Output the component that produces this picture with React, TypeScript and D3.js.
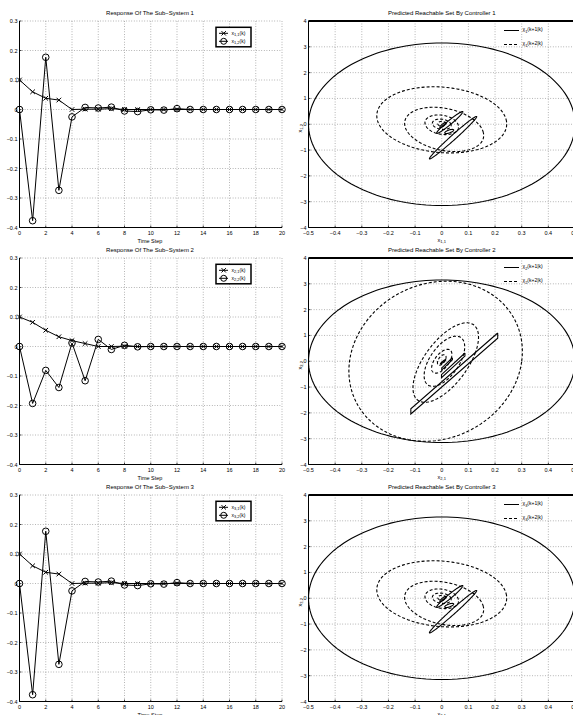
import React, { useEffect, useRef } from "react";
import * as d3 from "d3";

const timeSteps = [0, 1, 2, 3, 4, 5, 6, 7, 8, 9, 10, 11, 12, 13, 14, 15, 16, 17, 18, 19, 20];

const sub1X1 = [0.1, 0.06, 0.038, 0.032, 0, 0.001, 0.001, 0.003, 0, 0, 0, 0, 0, 0, 0, 0, 0, 0, 0, 0, 0];
const sub1X2 = [0, -0.377, 0.177, -0.274, -0.025, 0.007, 0.005, 0.008, -0.005, -0.007, -0.001, -0.002, 0.003, 0, 0, 0, 0, 0, 0, 0, 0];
const sub2X1 = [0.1, 0.082, 0.055, 0.033, 0.02, 0.01, 0, 0, 0.001, 0, 0, 0, 0, 0, 0, 0, 0, 0, 0, 0, 0];
const sub2X2 = [0, -0.193, -0.081, -0.139, 0.012, -0.116, 0.024, -0.01, 0.004, -0.001, 0, 0, 0, 0, 0, 0, 0, 0, 0, 0, 0];
const sub3X1 = [0.1, 0.06, 0.038, 0.032, 0, 0.001, 0.001, 0.003, 0, 0, 0, 0, 0, 0, 0, 0, 0, 0, 0, 0, 0];
const sub3X2 = [0, -0.377, 0.177, -0.274, -0.025, 0.007, 0.005, 0.008, -0.005, -0.007, -0.001, -0.002, 0.003, 0, 0, 0, 0, 0, 0, 0, 0];

const leftXTicks = [0, 2, 4, 6, 8, 10, 12, 14, 16, 18, 20];
const leftYTicks = [-0.4, -0.3, -0.2, -0.1, 0, 0.1, 0.2, 0.3];
const rightXTicks = [-0.5, -0.4, -0.3, -0.2, -0.1, 0, 0.1, 0.2, 0.3, 0.4, 0.5];
const rightYTicks = [-4, -3, -2, -1, 0, 1, 2, 3, 4];

// reachable sets: centre c, conjugate half-vectors u, v (data units)
type Shape = { kind: "ellipse" | "band"; c: number[]; u: number[]; v: number[] };

const reachA1: Shape[] = [
  { kind: "ellipse", c: [0, 0], u: [0.5, 0], v: [0, 3.15] },
  { kind: "ellipse", c: [0.0425, -0.52], u: [0.0885, 0.82], v: [-0.006, 0.07] },
  { kind: "ellipse", c: [0.03, 0.07], u: [0.049, 0.42], v: [-0.005, 0.06] },
  { kind: "ellipse", c: [0.028, -0.28], u: [0.016, 0.07], v: [-0.005, 0.04] },
  { kind: "ellipse", c: [0.005, -0.03], u: [0.012, 0.1], v: [-0.003, 0.03] },
];
const reachA2: Shape[] = [
  { kind: "ellipse", c: [0, 0.17], u: [0.243, -0.06], v: [-0.019, 1.28] },
  { kind: "ellipse", c: [0.009, -0.2], u: [0.147, -0.12], v: [-0.02, 0.85] },
  { kind: "ellipse", c: [0, -0.02], u: [0.0625, -0.03], v: [-0.008, 0.38] },
  { kind: "ellipse", c: [0, 0], u: [0.035, -0.015], v: [-0.004, 0.2] },
  { kind: "ellipse", c: [0, 0.02], u: [0.015, 0], v: [0, 0.09] },
];
const reachB1: Shape[] = [
  { kind: "ellipse", c: [0, 0], u: [0.5, 0], v: [0, 3.15] },
  { kind: "band", c: [0.047, -0.475], u: [0.163, 1.47], v: [0, 0.1] },
  { kind: "band", c: [0.043, -0.16], u: [0.044, 0.42], v: [0, 0.06] },
  { kind: "band", c: [0.02, -0.1], u: [0.02, 0.2], v: [0, 0.04] },
  { kind: "ellipse", c: [0.005, -0.02], u: [0.01, 0.08], v: [0, 0.03] },
];
const reachB2: Shape[] = [
  { kind: "ellipse", c: [-0.023, 0], u: [0.323, 0], v: [0.04, 3.1] },
  { kind: "ellipse", c: [0.015, -0.05], u: [0.11, 0.35], v: [0.055, 1.5] },
  { kind: "ellipse", c: [0.01, 0], u: [0.07, 0.2], v: [0.03, 0.95] },
  { kind: "ellipse", c: [0, 0], u: [0.035, 0.1], v: [0.015, 0.45] },
  { kind: "ellipse", c: [0, 0.05], u: [0.015, 0.04], v: [0.006, 0.2] },
];

const panels = [
  { n: "1", x1: sub1X1, x2: sub1X2, solid: reachA1, dashed: reachA2 },
  { n: "2", x1: sub2X1, x2: sub2X2, solid: reachB1, dashed: reachB2 },
  { n: "3", x1: sub3X1, x2: sub3X2, solid: reachA1, dashed: reachA2 },
];

const FONT = "'Liberation Sans', Arial, Helvetica, sans-serif";

const App = () => {
  const svgRef = useRef<SVGSVGElement>(null);

  useEffect(() => {
    document.body.style.margin = "0";
    const width = 573;
    const height = 715;
    const svg = d3
      .select(svgRef.current)
      .attr("width", width)
      .attr("height", height)
      .style("font-family", FONT)
      .style("background", "#fff");
    svg.selectAll("*").remove();

    const plotH = 206.5;
    const tops = [21, 258, 495];
    const gridStyle = (s: any) =>
      s.attr("stroke", "#666").attr("stroke-width", 0.6).attr("stroke-dasharray", "0.8,1.8");

    const subText = (t: any, base: string, sub: string, tail: string) => {
      t.append("tspan").text(base);
      t.append("tspan").attr("dy", 1.5).style("font-size", "4px").text(sub);
      t.append("tspan").attr("dy", -1.5).text(tail);
    };

    panels.forEach((p, i) => {
      const top = tops[i];
      const bottom = top + plotH;

      // ---------- left: time response ----------
      const x = d3.scaleLinear().domain([0, 20]).range([19.5, 282]);
      const y = d3.scaleLinear().domain([-0.4, 0.3]).range([bottom, top]);
      const gl = svg.append("g");

      leftXTicks.forEach((t) => {
        gl.append("line").attr("x1", x(t)).attr("x2", x(t)).attr("y1", top).attr("y2", bottom).call(gridStyle);
      });
      leftYTicks.forEach((t) => {
        gl.append("line").attr("x1", x(0)).attr("x2", x(20)).attr("y1", y(t)).attr("y2", y(t)).call(gridStyle);
      });
      gl.append("line").attr("x1", x(0)).attr("x2", x(0)).attr("y1", top).attr("y2", bottom).attr("stroke", "#000").attr("stroke-width", 1);
      gl.append("line").attr("x1", x(0)).attr("x2", x(20)).attr("y1", bottom).attr("y2", bottom).attr("stroke", "#000").attr("stroke-width", 1);

      leftXTicks.forEach((t) => {
        gl.append("line").attr("x1", x(t)).attr("x2", x(t)).attr("y1", bottom).attr("y2", bottom - 2).attr("stroke", "#000").attr("stroke-width", 0.7);
        gl.append("text").attr("x", x(t)).attr("y", bottom + 7).attr("text-anchor", "middle").style("font-size", "5.5px").text(String(t));
      });
      leftYTicks.forEach((t) => {
        gl.append("line").attr("x1", x(0)).attr("x2", x(0) + 2).attr("y1", y(t)).attr("y2", y(t)).attr("stroke", "#000").attr("stroke-width", 0.7);
        gl.append("text").attr("x", x(0) - 2).attr("y", y(t) + 2).attr("text-anchor", "end").style("font-size", "5.5px")
          .text(t === 0 ? "0" : d3.format(".1f")(t).replace("-", "\u2212"));
      });

      const line = d3.line<number>().x((_, k) => x(timeSteps[k])).y((d) => y(d));
      gl.append("path").attr("d", line(p.x1)).attr("fill", "none").attr("stroke", "#000").attr("stroke-width", 1);
      gl.append("path").attr("d", line(p.x2)).attr("fill", "none").attr("stroke", "#000").attr("stroke-width", 1);
      p.x1.forEach((d, k) => {
        const cx = x(timeSteps[k]);
        const cy = y(d);
        gl.append("path").attr("d", `M${cx - 2.3},${cy - 2.3}L${cx + 2.3},${cy + 2.3}M${cx - 2.3},${cy + 2.3}L${cx + 2.3},${cy - 2.3}`)
          .attr("stroke", "#000").attr("stroke-width", 1);
      });
      p.x2.forEach((d, k) => {
        gl.append("circle").attr("cx", x(timeSteps[k])).attr("cy", y(d)).attr("r", 3.3)
          .attr("fill", "none").attr("stroke", "#000").attr("stroke-width", 1);
      });

      gl.append("text").attr("x", 150).attr("y", top - 6).attr("text-anchor", "middle").style("font-size", "6px")
        .text(`Response Of The Sub\u2212System ${p.n}`);
      gl.append("text").attr("x", 150).attr("y", bottom + 15).attr("text-anchor", "middle").style("font-size", "5.5px").text("Time Step");

      // legend
      const lg = gl.append("g").attr("transform", `translate(216, ${top + 6.3})`);
      lg.append("rect").attr("width", 35).attr("height", 19.5).attr("fill", "#fff").attr("stroke", "#000").attr("stroke-width", 1.5);
      lg.append("line").attr("x1", 3).attr("x2", 12).attr("y1", 6).attr("y2", 6).attr("stroke", "#000").attr("stroke-width", 1);
      lg.append("path").attr("d", "M5.5,3.8L9.9,8.2M5.5,8.2L9.9,3.8").attr("stroke", "#000").attr("stroke-width", 1);
      lg.append("line").attr("x1", 3).attr("x2", 12).attr("y1", 14).attr("y2", 14).attr("stroke", "#000").attr("stroke-width", 1);
      lg.append("circle").attr("cx", 7.7).attr("cy", 14).attr("r", 3).attr("fill", "none").attr("stroke", "#000").attr("stroke-width", 1);
      lg.append("text").attr("x", 15.5).attr("y", 7.3).style("font-size", "5px").call(subText, "x", `${p.n},1`, "(k)");
      lg.append("text").attr("x", 15.5).attr("y", 15.3).style("font-size", "5px").call(subText, "x", `${p.n},2`, "(k)");

      // ---------- right: reachable sets ----------
      const rx = d3.scaleLinear().domain([-0.5, 0.5]).range([308.5, 575]);
      const ry = d3.scaleLinear().domain([-4, 4]).range([bottom, top]);
      const gr = svg.append("g");

      rightXTicks.forEach((t) => {
        gr.append("line").attr("x1", rx(t)).attr("x2", rx(t)).attr("y1", top).attr("y2", bottom).call(gridStyle);
      });
      rightYTicks.forEach((t) => {
        gr.append("line").attr("x1", rx(-0.5)).attr("x2", rx(0.5)).attr("y1", ry(t)).attr("y2", ry(t)).call(gridStyle);
      });
      gr.append("line").attr("x1", rx(-0.5)).attr("x2", rx(-0.5)).attr("y1", top).attr("y2", bottom).attr("stroke", "#000").attr("stroke-width", 1);
      gr.append("line").attr("x1", rx(-0.5)).attr("x2", rx(0.5)).attr("y1", bottom).attr("y2", bottom).attr("stroke", "#000").attr("stroke-width", 1);
      gr.append("line").attr("x1", rx(-0.5)).attr("x2", rx(0.5)).attr("y1", top).attr("y2", top).attr("stroke", "#000").attr("stroke-width", 1.8);

      rightXTicks.forEach((t) => {
        gr.append("line").attr("x1", rx(t)).attr("x2", rx(t)).attr("y1", bottom).attr("y2", bottom - 2).attr("stroke", "#000").attr("stroke-width", 0.7);
        gr.append("text").attr("x", rx(t)).attr("y", bottom + 7).attr("text-anchor", "middle").style("font-size", "5.5px")
          .text(t === 0 ? "0" : d3.format(".1f")(t).replace("-", "\u2212"));
      });
      rightYTicks.forEach((t) => {
        gr.append("line").attr("x1", rx(-0.5)).attr("x2", rx(-0.5) + 2).attr("y1", ry(t)).attr("y2", ry(t)).attr("stroke", "#000").attr("stroke-width", 0.7);
        gr.append("text").attr("x", rx(-0.5) - 2).attr("y", ry(t) + 2).attr("text-anchor", "end").style("font-size", "5.5px")
          .text(String(t).replace("-", "\u2212"));
      });

      const angles = d3.range(0, 161).map((k) => (k / 160) * 2 * Math.PI);
      const shapePath = (s: Shape) => {
        const [cx, cy] = s.c;
        const [ux, uy] = s.u;
        const [vx, vy] = s.v;
        let pts: [number, number][];
        if (s.kind === "band") {
          pts = [
            [cx + ux + vx, cy + uy + vy],
            [cx + ux - vx, cy + uy - vy],
            [cx - ux - vx, cy - uy - vy],
            [cx - ux + vx, cy - uy + vy],
            [cx + ux + vx, cy + uy + vy],
          ];
        } else {
          pts = angles.map((a) => [cx + ux * Math.cos(a) + vx * Math.sin(a), cy + uy * Math.cos(a) + vy * Math.sin(a)]);
        }
        return d3.line<[number, number]>().x((d) => rx(d[0])).y((d) => ry(d[1]))(pts);
      };

      p.dashed.forEach((s) => {
        gr.append("path").attr("d", shapePath(s)).attr("fill", "none").attr("stroke", "#000").attr("stroke-width", 1.1).attr("stroke-dasharray", "3,2");
      });
      p.solid.forEach((s) => {
        gr.append("path").attr("d", shapePath(s)).attr("fill", "none").attr("stroke", "#000").attr("stroke-width", 1.1);
      });

      gr.append("text").attr("x", rx(0)).attr("y", top - 6).attr("text-anchor", "middle").style("font-size", "6px")
        .text(`Predicted Reachable Set By Controller ${p.n}`);
      gr.append("text").attr("x", rx(0)).attr("y", bottom + 14).attr("text-anchor", "middle").style("font-size", "5.5px")
        .call(subText, "x", `${p.n},1`, "");
      gr.append("text").attr("transform", `translate(301.5, ${ry(0) + 4}) rotate(-90)`).attr("text-anchor", "middle").style("font-size", "5.5px")
        .call(subText, "x", `${p.n},2`, "");

      const rl = gr.append("g").attr("transform", `translate(504, ${top})`);
      rl.append("line").attr("x1", 0).attr("x2", 15).attr("y1", 9.5).attr("y2", 9.5).attr("stroke", "#000").attr("stroke-width", 1);
      rl.append("line").attr("x1", 0).attr("x2", 15).attr("y1", 23.5).attr("y2", 23.5).attr("stroke", "#000").attr("stroke-width", 1).attr("stroke-dasharray", "3,2");
      rl.append("text").attr("x", 18.5).attr("y", 10).style("font-size", "5px").call(subText, "\u03c7", p.n, "(k+1|k)");
      rl.append("text").attr("x", 18.5).attr("y", 24).style("font-size", "5px").call(subText, "\u03c7", p.n, "(k+2|k)");
    });
  }, []);

  return (
    <div style={{ width: 573, height: 715, overflow: "hidden" }}>
      <svg ref={svgRef} style={{ display: "block" }}></svg>
    </div>
  );
};

export default App;
